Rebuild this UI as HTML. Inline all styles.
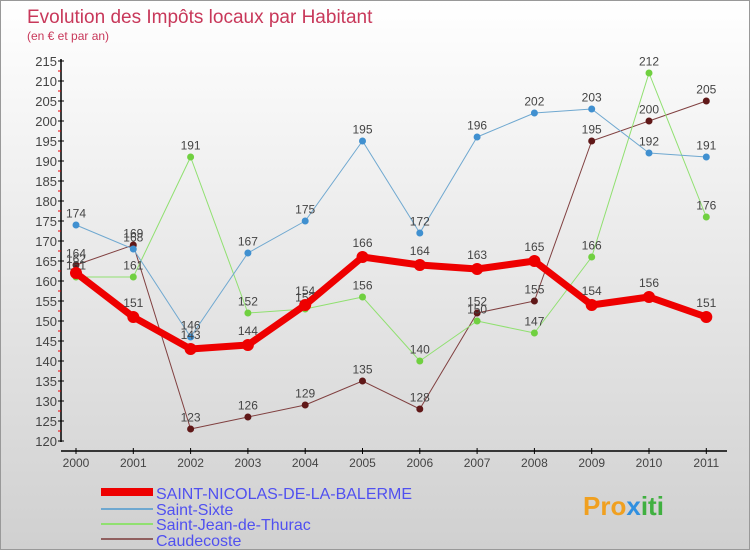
<!DOCTYPE html>
<html><head><meta charset="utf-8"><style>
body{margin:0}
#c{width:750px;height:550px;position:relative;background:linear-gradient(#ffffff,#d0d0d0);font-family:"Liberation Sans",sans-serif;overflow:hidden;box-sizing:border-box;border:1px solid #999}
</style></head><body>
<div id="c">
<svg id="s" width="750" height="550">
<text x="26" y="22" font-size="19" fill="#c8385a">Evolution des Impôts locaux par Habitant</text>
<text x="26" y="39" font-size="12" fill="#c8385a">(en € et par an)</text>
<g id="axes"></g><g id="series"></g>
<g id="legend" font-size="16" fill="#5050f0">
<rect x="100" y="487" width="52" height="8" fill="#ee0000"/>
<text x="155" y="498">SAINT-NICOLAS-DE-LA-BALERME</text>
<rect x="100" y="507" width="52" height="2" fill="#6fa8d0"/>
<text x="155" y="514">Saint-Sixte</text>
<rect x="100" y="522" width="52" height="2" fill="#90e070"/>
<text x="155" y="529">Saint-Jean-de-Thurac</text>
<rect x="100" y="537" width="52" height="2" fill="#906060"/>
<text x="155" y="545">Caudecoste</text>
</g>
<text x="582" y="514" font-size="26" font-weight="bold" fill="#f0a020">Pro<tspan fill="#3090e0">x</tspan><tspan fill="#40b040">iti</tspan></text>
</svg>
</div>
<script>
const years=[2000,2001,2002,2003,2004,2005,2006,2007,2008,2009,2010,2011];
const yTicks=[120,125,130,135,140,145,150,155,160,165,170,175,180,185,190,195,200,205,210,215];
const snb=[162,151,143,144,154,166,164,163,165,154,156,151];
const sixte=[174,168,146,167,175,195,172,196,202,203,192,191];
const jean=[161,161,191,152,153,156,140,150,147,166,212,176];
const caude=[164,169,123,126,129,135,128,152,155,195,200,205];
const NS="http://www.w3.org/2000/svg";
const X=i=>75+i*57.3, Y=v=>440-(v-120)*4;
function mk(t,a,p){const e=document.createElementNS(NS,t);for(const k in a)e.setAttribute(k,a[k]);p.appendChild(e);return e;}
const ax=document.getElementById('axes');
let l=mk('line',{x1:60,y1:58,x2:60,y2:441,stroke:'#000','stroke-width':1.5},ax);


l=mk('line',{x1:60,y1:450,x2:726,y2:450,stroke:'#000','stroke-width':1.5},ax);


yTicks.forEach(v=>{
 mk('line',{x1:57,y1:Y(v),x2:63,y2:Y(v),stroke:'#000'},ax);
 if(v<215)mk('line',{x1:57,y1:Y(v)-10,x2:60,y2:Y(v)-10,stroke:'#e00'},ax);
 const t=mk('text',{x:56,y:Y(v)+5,'text-anchor':'end','font-size':13,fill:'#444'},ax);t.textContent=v;
 
 
});
years.forEach((y,i)=>{
 mk('line',{x1:X(i),y1:447,x2:X(i),y2:453,stroke:'#000'},ax);
 const t=mk('text',{x:X(i),y:466,'text-anchor':'middle','font-size':12,fill:'#444'},ax);t.textContent=y;
 
 
});
const sg=document.getElementById('series');
function draw(d,col,dot,w,r,name,fs){
 const g=mk('g',{},sg);
 
 
 mk('polyline',{points:d.map((v,i)=>X(i)+','+Y(v)).join(' '),fill:'none',stroke:col,'stroke-width':w,'stroke-linejoin':'round'},g);
 d.forEach((v,i)=>{
  const c=mk('circle',{cx:X(i),cy:Y(v),r:r,fill:dot},g);
  
  
  const t=mk('text',{x:X(i),y:Y(v)-r-4,'text-anchor':'middle','font-size':fs,fill:'#444'},g);t.textContent=v;
 });
}
draw(caude,'#804040','#601818',1,3.5,'caudecoste',12);
draw(jean,'#90e070','#70d040',1,3.5,'saint-jean',12);
draw(sixte,'#6fa8d0','#4090d0',1,3.5,'saint-sixte',12);
draw(snb,'#ee0000','#ee0000',7,6,'saint-nicolas',12);
</script>
</body></html>
